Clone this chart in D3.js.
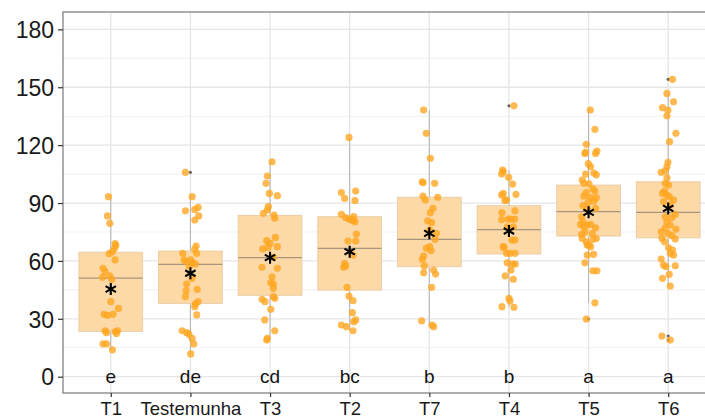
<!DOCTYPE html>
<html>
<head>
<meta charset="utf-8">
<script src="https://cdn.jsdelivr.net/npm/d3@7"></script>
<style>
  html, body { margin: 0; padding: 0; background: #ffffff; }
  svg { display: block; }
</style>
</head>
<body>
<svg id="chart" width="705" height="419"></svg>
<script>
// ---------- data ----------
const categories = ["T1", "Testemunha", "T3", "T2", "T7", "T4", "T5", "T6"];
const letters    = ["e", "de", "cd", "bc", "b", "b", "a", "a"];
const yTicks     = [0, 30, 60, 90, 120, 150, 180];
const yMinor     = [15, 45, 75, 105, 135, 165];

const q1         = [23.5, 38.0, 42.2, 44.9, 57.0, 63.6, 72.9, 72.0];
const medians    = [51.1, 58.2, 61.7, 66.5, 71.2, 76.2, 85.5, 85.2];
const q3         = [64.5, 65.1, 83.6, 82.9, 93.0, 88.6, 99.3, 101.0];
const whiskerLo  = [13.9, 11.8, 19.0, 23.8, 25.9, 36.0, 38.3, 47.0];
const whiskerHi  = [93.3, 93.3, 111.4, 124.0, 138.2, 107.1, 138.2, 146.8];
const means      = [45.4, 53.6, 61.7, 64.8, 74.3, 75.5, 85.2, 87.2];
const outliers   = [[], [105.9], [], [], [], [140.4], [29.9], [154.1, 21.1, 19.0]];

// observed values per treatment, with observed horizontal jitter (px in reference)
const valsT1 = [93.3,83.3,79.5,69,68,66.5,64.8,63.8,60.5,56.2,54.4,51.5,52.2,50.5,38.9,35.4,32.3,31.8,32.3,23.8,22.8,23.3,23.8,22.4,17,17,13.9];
const jitT1  = [-2.3,-3.3,-1,4.3,5,3.7,1.7,-1.7,4.3,-7.7,-5.7,-8.3,-1,1,0,7.7,-6.7,-3.3,2.3,-5.7,-4.3,4.3,6.7,5.7,-7.7,-4.3,1.7];

const valsTest = [105.9,93.3,86,86.7,87.8,83.3,81.2,67.7,66,63.9,63.9,60.5,59.6,60.5,59,58.4,57.4,51,48,44.6,45.3,41.5,38.9,37.7,36.3,32,23.8,22.8,22.1,19.9,17,11.8];
const jitTest  = [-5,1.7,-5,4.3,7.7,8.3,4.3,5.7,4.3,6.3,-7.7,-6.3,-4.3,0.3,2.3,5,-1,1.7,-3.7,-4.3,6.7,-5,7.7,5,4.3,6.3,-8.3,-3.7,-1.7,1.7,3.3,0.3];

const valsT3 = [111.4,104,100.2,95,93.8,88.1,86.4,84.7,83.8,82.1,72.2,70.5,69.1,67,67.4,66.2,61.9,56.7,56.2,51.8,48.7,48,45.8,41.5,40.6,40.1,38.9,34.9,29.4,23.8,19.9,19];
const jitT3  = [2,-2.7,-4,-0.7,7.3,-1.7,-2.7,-6.7,4,4.7,5.3,-3.3,0,-2,7.3,-7.3,3.3,-8,7.3,2,0.7,3.3,3.3,3.3,4.7,-8,-5,0.7,-5.3,4.7,-2.7,-3.3];

const valsT2 = [124,96.2,95.4,92.4,91.2,84.1,83,82.5,81.7,81.4,81,80.3,73.9,70.3,70.3,63,58.8,57.4,56.7,46.3,41.8,39.4,33.2,29.4,28.5,26.8,25.9,23.8];
const jitT2  = [-0.7,6,-8.3,-5,5.3,-8.3,4,-4,-0.7,1.7,3.3,5.3,6.7,-1.7,6,3.3,-5,-4,-6,-2.7,-0.7,3.3,2.7,6,4,-8.3,-3.3,3.3];

const valsT7 = [138.2,126.1,113.2,101,100.5,100.2,93.6,91.6,93,87.3,85,80.8,79.8,76,74.3,71.2,66.5,67.4,65.3,62.5,60.8,57.4,53.9,55.3,53.2,46.3,29,26.8,25.9];
const jitT7  = [-5.7,-3,1,-7,-6.3,5.3,-6.3,-4,8.3,3.7,1,-1.7,2.3,0.3,7,5.7,-3,0.3,1.7,-5.7,-7,-5,-5.7,4.3,6.3,2.3,-7.7,2.7,4.3];

const valsT4 = [140.4,107.1,105,106.2,103.3,99.8,94.5,94.1,95,91.6,91.2,86,85,81.7,81.7,81.7,81.4,77.6,77.6,70.8,70.8,67.4,67,63.9,63.9,63.9,58.4,58.4,59,55.3,52.2,50.5,40.6,39.2,36.3,36];
const jitT4  = [5,-6.3,-7.3,-5.7,-0.3,3.7,7,-7.3,-5.7,-2.3,-4,6,-7,-0.7,1.7,5.7,-7.3,-1.7,4.3,6,3,-5.7,-5,-2.3,1,6,3.7,6.3,-1.7,2,-3.7,4.3,0,1,-7,5];

const valsT5 = [138.2,128.2,120.4,115.7,116.3,116.9,115.7,110.4,108.8,105,105.5,104.6,101.9,100.2,100,97.4,96.2,95.4,93.6,92.8,92.8,90.3,91,88.7,87.3,87,82.9,80.3,78.9,77.7,78.6,78.9,77.2,75.1,74.2,73.7,71.6,71.6,69.9,71.2,68.2,67.4,68.2,63,63.4,59,54.9,54.9,38.3,29.9];
const jitT5  = [1.7,6.3,-2.3,-3.7,-3,8.3,7,-0.3,2,-3,5.3,7.7,-6.3,-4.7,0.3,4.3,6.3,-2.3,-4.7,2,7.7,-0.3,5.3,-5.7,7,-1.3,-7,-5.7,-8,-4.7,-1.3,2,7,-3.7,3.7,-7,7.7,-6.3,-2.3,4.3,0.3,2,-1.3,-1.3,5,-3.7,4.3,8.3,6.3,-2.3];

const valsT6 = [154.1,146.8,142.5,139.4,138.2,135.2,126.1,121.8,111.1,108.8,105.9,106.6,103.1,100.2,99.3,95,96.2,94.1,93.3,91.6,90.7,89,84.1,82.4,82.9,80.3,78.6,76.5,77.2,75.1,74.3,73.1,71.7,71.3,69.9,66.8,65.6,63.9,63,61,57.9,57,57.5,53,51,47,21.1,19];
const jitT6  = [4.3,-1.3,5.3,-5.7,-0.3,-1.3,7.7,1.3,-0.3,-1.3,-7,-3,-1.3,-3,0.3,-5.7,-3.7,-1.3,1,5.3,-4.7,2,7,3.7,-3,-1.3,2,7.7,-3,-7,-0.3,3.7,-6.3,7,-3.7,0.3,4.3,2,5.3,-7,-4.7,-2.3,7,1,-5.7,2,-6.3,2];

const groupValues = [valsT1, valsTest, valsT3, valsT2, valsT7, valsT4, valsT5, valsT6];
const groupJitter = [jitT1, jitTest, jitT3, jitT2, jitT7, jitT4, jitT5, jitT6];

// ---------- layout ----------
const panel = { left: 63, top: 12, right: 716, bottom: 393 };
const FONT = "'Liberation Sans', Arial, Helvetica, sans-serif";

const svg = d3.select("#chart");

const x = d3.scalePoint().domain(categories).range([panel.left, panel.right]).padding(0.6);
const y = d3.scaleLinear().domain([-8.45, 189]).range([panel.bottom, panel.top]);
const step = x.step();
const jitScale = step / 79.6; // jitter was measured in reference pixels
const boxW = step * 0.8;

svg.append("defs").append("clipPath").attr("id", "pclip")
  .append("rect").attr("x", panel.left).attr("y", panel.top)
  .attr("width", panel.right - panel.left).attr("height", panel.bottom - panel.top);

const g = svg.append("g").attr("clip-path", "url(#pclip)");

g.append("rect").attr("x", panel.left).attr("y", panel.top)
  .attr("width", panel.right - panel.left).attr("height", panel.bottom - panel.top)
  .attr("fill", "#ffffff");

// minor gridlines
g.selectAll("line.ymin").data(yMinor).join("line")
  .attr("x1", panel.left).attr("x2", panel.right)
  .attr("y1", d => y(d)).attr("y2", d => y(d))
  .attr("stroke", "#f0f0f0").attr("stroke-width", 1);

// major gridlines
g.selectAll("line.ymaj").data(yTicks).join("line")
  .attr("x1", panel.left).attr("x2", panel.right)
  .attr("y1", d => y(d)).attr("y2", d => y(d))
  .attr("stroke", "#e6e6e6").attr("stroke-width", 1.3);

g.selectAll("line.xmaj").data(categories).join("line")
  .attr("x1", d => x(d)).attr("x2", d => x(d))
  .attr("y1", panel.top).attr("y2", panel.bottom)
  .attr("stroke", "#e6e6e6").attr("stroke-width", 1.3);

// whiskers
g.selectAll("line.whisk").data(categories).join("line")
  .attr("x1", d => x(d)).attr("x2", d => x(d))
  .attr("y1", (d, i) => y(whiskerLo[i])).attr("y2", (d, i) => y(whiskerHi[i]))
  .attr("stroke", "#b5b5b5").attr("stroke-width", 1);

// boxes
g.selectAll("rect.box").data(categories).join("rect")
  .attr("x", d => x(d) - boxW / 2).attr("width", boxW)
  .attr("y", (d, i) => y(q3[i])).attr("height", (d, i) => y(q1[i]) - y(q3[i]))
  .attr("fill", "#fcd9a6").attr("stroke", "#ebcda6").attr("stroke-width", 1);

// medians
g.selectAll("line.med").data(categories).join("line")
  .attr("x1", d => x(d) - boxW / 2).attr("x2", d => x(d) + boxW / 2)
  .attr("y1", (d, i) => y(medians[i])).attr("y2", (d, i) => y(medians[i]))
  .attr("stroke", "#a89580").attr("stroke-width", 1.2);

// outliers (grey dots at centre)
categories.forEach((c, i) => {
  g.selectAll(null).data(outliers[i]).join("circle")
    .attr("cx", x(c)).attr("cy", d => y(d)).attr("r", 1.6)
    .attr("fill", "#666");
});

// jittered points
categories.forEach((c, i) => {
  const vals = groupValues[i], jit = groupJitter[i];
  const pts = vals.map((v, k) => ({ v, j: jit[k] || 0 }));
  g.selectAll(null).data(pts).join("circle")
    .attr("cx", d => x(c) + d.j * jitScale)
    .attr("cy", d => y(d.v))
    .attr("r", 3.6)
    .attr("fill", "#ffa51f")
    .attr("fill-opacity", 0.78);
});

// mean stars
const starR = 6;
const starPath = d3.path();
[90, 30, 150].forEach(a => {
  const r = a * Math.PI / 180;
  starPath.moveTo(-starR * Math.cos(r), -starR * Math.sin(r));
  starPath.lineTo(starR * Math.cos(r), starR * Math.sin(r));
});
g.selectAll("path.star").data(categories).join("path")
  .attr("d", starPath.toString())
  .attr("transform", (d, i) => `translate(${x(d)},${y(means[i])})`)
  .attr("stroke", "#000").attr("stroke-width", 2.1).attr("fill", "none");

// letters
g.selectAll("text.let").data(categories).join("text")
  .attr("x", d => x(d)).attr("y", y(0) + 6)
  .attr("text-anchor", "middle")
  .attr("font-family", FONT).attr("font-size", 19).attr("fill", "#111")
  .text((d, i) => letters[i]);

// panel border
svg.append("rect").attr("x", panel.left).attr("y", panel.top)
  .attr("width", panel.right - panel.left).attr("height", panel.bottom - panel.top)
  .attr("fill", "none").attr("stroke", "#8c8c8c").attr("stroke-width", 1.4);

// y axis
const yAxis = d3.axisLeft(y).tickValues(yTicks).tickSize(5).tickPadding(4);
const ya = svg.append("g").attr("transform", `translate(${panel.left},0)`).call(yAxis);
ya.select(".domain").remove();
ya.selectAll(".tick line").attr("stroke", "#333").attr("stroke-width", 1.2);
ya.selectAll(".tick text").attr("font-family", FONT).attr("font-size", 23)
  .attr("fill", "#1a1a1a").attr("dy", "0.36em").attr("x", -9);

// x axis
const xAxis = d3.axisBottom(x).tickSize(4).tickPadding(4);
const xa = svg.append("g").attr("transform", `translate(0,${panel.bottom})`).call(xAxis);
xa.select(".domain").remove();
xa.selectAll(".tick line").attr("stroke", "#333").attr("stroke-width", 1.2);
xa.selectAll(".tick text").attr("font-family", FONT).attr("font-size", 18.5)
  .attr("fill", "#1a1a1a").attr("dy", 0).attr("y", 21.5);
</script>
</body>
</html>
